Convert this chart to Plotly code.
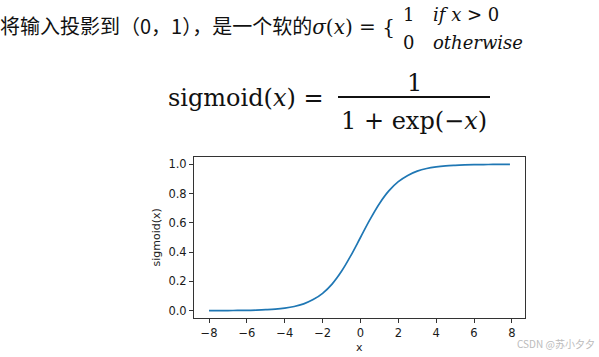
import plotly.graph_objects as go

# data
x_vals = [-8, -7.5, -7, -6.5, -6, -5.5, -5, -4.5, -4, -3.5, -3, -2.5, -2, -1.5, -1, -0.5,
          0, 0.5, 1, 1.5, 2, 2.5, 3, 3.5, 4, 4.5, 5, 5.5, 6, 6.5, 7, 7.5, 7.9]
y_vals = [0.000, 0.001, 0.001, 0.002, 0.002, 0.004, 0.007, 0.011, 0.018, 0.029, 0.047, 0.076,
          0.119, 0.182, 0.269, 0.378, 0.500, 0.622, 0.731, 0.818, 0.881, 0.924, 0.953, 0.971,
          0.982, 0.989, 0.993, 0.996, 0.998, 0.998, 0.999, 0.999, 1.000]
x_ticks = [-8, -6, -4, -2, 0, 2, 4, 6, 8]
x_tick_labels = ["−8", "−6", "−4", "−2", "0", "2", "4", "6", "8"]
y_ticks = [0.0, 0.2, 0.4, 0.6, 0.8, 1.0]
y_tick_labels = ["0.0", "0.2", "0.4", "0.6", "0.8", "1.0"]

W, H = 599, 357
L, R, T, B = 194, 525, 157, 318


def px(x):
    return (x - L) / (R - L)


def py(y):
    return (B - y) / (B - T)


fig = go.Figure()
fig.add_trace(go.Scatter(x=x_vals, y=y_vals, mode="lines",
                         line=dict(color="#1f77b4", width=1.7, shape="spline"),
                         showlegend=False, hoverinfo="skip"))

tickfont = dict(family="DejaVu Sans", size=11.5, color="#1a1a1a")
fig.update_xaxes(range=[-8.795, 8.695], tickvals=x_ticks, ticktext=x_tick_labels,
                 showgrid=False, zeroline=False, showline=True, mirror=True,
                 linecolor="#333", linewidth=1, ticks="outside", ticklen=4,
                 tickcolor="#333", tickfont=tickfont)
fig.update_yaxes(range=[-0.0497, 1.0497], tickvals=y_ticks, ticktext=y_tick_labels,
                 showgrid=False, zeroline=False, showline=True, mirror=True,
                 linecolor="#333", linewidth=1, ticks="outside", ticklen=4,
                 tickcolor="#333", tickfont=tickfont)

cjk = "Noto Sans CJK SC"
serif = "DejaVu Serif"
ann = []


def add(text, x, y, size, family, xanchor="left", color="#111", angle=0):
    ann.append(dict(text=text, x=px(x), y=py(y), xref="paper", yref="paper",
                    xanchor=xanchor, yanchor="middle", showarrow=False,
                    font=dict(family=family, size=size, color=color), textangle=angle))


add("将输入投影到（0，1），是一个软的"
    "<span style='font-family:DejaVu Serif;font-size:20px'><i>σ</i>(<i>x</i>) = {</span>",
    -2, 25, 20, cjk)
add("1", 401, 14, 18, serif)
add("0", 401, 42, 18, serif)
add("<i>if x</i> > 0", 431, 14, 18, serif)
add("<i>otherwise</i>", 431, 42, 18, serif)

add("sigmoid(<i>x</i>) =", 166, 98, 24, serif)
add("1", 414, 83, 24, serif, xanchor="center")
add("1 + exp(−<i>x</i>)", 414, 121, 24, serif, xanchor="center")

add("x", 359.5, 347, 11, "DejaVu Sans", xanchor="center", color="#222")
add("sigmoid(x)", 156, 237.5, 11, "DejaVu Sans", xanchor="center", color="#222", angle=-90)
add("CSDN @苏小夕夕", 597, 343, 10, cjk, xanchor="right", color="#bbb")

fig.update_layout(
    width=W, height=H,
    margin=dict(l=L, r=W - R, t=T, b=H - B, pad=0),
    paper_bgcolor="white", plot_bgcolor="white",
    annotations=ann,
    shapes=[dict(type="line", xref="paper", yref="paper",
                 x0=px(338), x1=px(490), y0=py(97), y1=py(97),
                 line=dict(color="#111", width=1.8))],
)
fig.write_html("out.html", config={"displayModeBar": False},
               post_script="document.body.style.margin='0px';")
